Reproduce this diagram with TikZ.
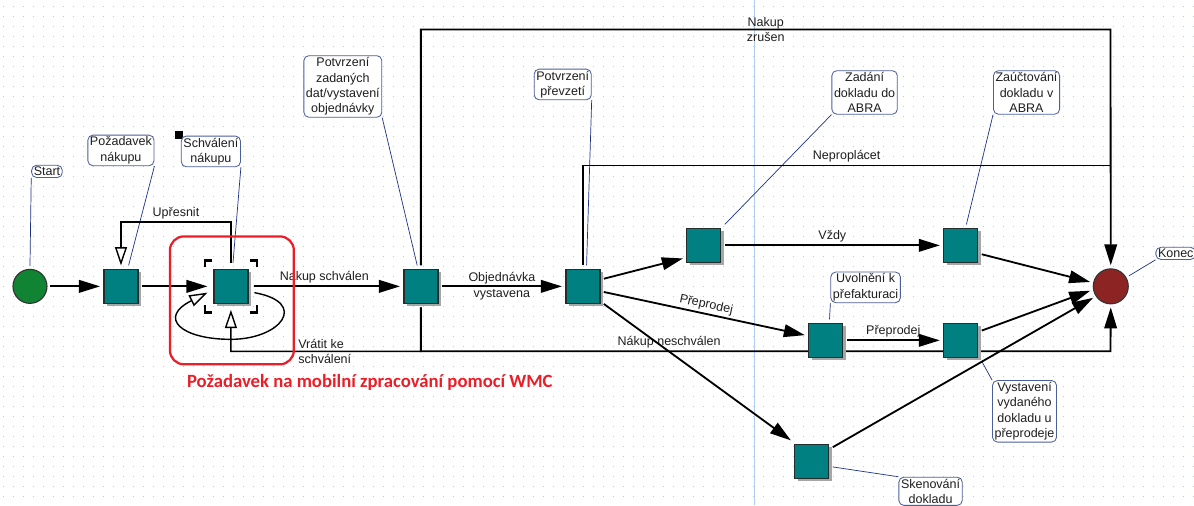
\documentclass[tikz,border=0pt]{standalone}
\usepackage{fontspec}
\setmainfont{Liberation Sans}
\newfontfamily\wmcfont{Carlito}
\usepackage{tikz}
\usetikzlibrary{arrows.meta, calc, shadows}
\pgfdeclarelayer{bg}
\pgfsetlayers{bg,main}
\definecolor{taskfill}{RGB}{0,128,128}
\definecolor{taskedge}{RGB}{35,45,45}
\definecolor{startfill}{RGB}{16,132,50}
\definecolor{endfill}{RGB}{140,36,36}
\definecolor{noteedge}{RGB}{75,95,155}
\definecolor{noteline}{RGB}{30,50,135}
\definecolor{wmcred}{RGB}{235,30,40}
\definecolor{gridcol}{RGB}{190,200,222}
\definecolor{guidecol}{RGB}{175,205,240}
\definecolor{labeltext}{RGB}{30,30,30}
\tikzstyle{task} = [rectangle, minimum size=0.85cm, inner sep=0pt, draw=taskedge, line width=0.9pt, fill=taskfill, outer sep=2.8pt, drop shadow={shadow xshift=2pt, shadow yshift=-2pt, fill=black!35, opacity=1}]
\tikzstyle{startcirc} = [circle, minimum size=0.85cm, inner sep=0pt, draw=black!80, line width=0.8pt, fill=startfill, outer sep=2.5pt]
\tikzstyle{endcirc} = [circle, minimum size=0.875cm, inner sep=0pt, draw=black!80, line width=0.8pt, fill=endfill, outer sep=2.5pt]
\tikzstyle{note} = [rectangle, rounded corners=3.5pt, draw=noteedge, line width=0.6pt, fill=white, align=center, inner xsep=1.5pt, inner ysep=1.2pt, text=labeltext]
\tikzstyle{noteln} = [draw=noteline, line width=0.5pt]
\tikzstyle{lbl} = [text=labeltext, inner sep=1.5pt, align=center]
\tikzstyle{flow} = [line width=1.3pt]
\tikzstyle{arrow} = [line width=1.3pt, -{Triangle[length=15pt, width=9pt]}]
\tikzstyle{openarrow} = [line width=1pt, -{Triangle[length=13pt, width=8.5pt, fill=white]}]
\tikzstyle{bracketln} = [line width=1.7pt]

\begin{document}
\begin{tikzpicture}[x=0.025cm, y=-0.025cm, node distance=2cm, font=\fontsize{8.9}{11}\selectfont]
\begin{pgfonlayer}{bg}
\fill[white] (0,0) rectangle (1194,505);
\foreach \gy in {6,16,...,500}
  \draw[gridcol, line width=0.8pt, dash pattern=on 0.8pt off 6.313pt] (3,\gy) -- (1194,\gy);
\draw[guidecol, line width=0.7pt] (755,0) -- (755,505);
\end{pgfonlayer}
\useasboundingbox (0,0) rectangle (1194,505);

% process
\node (start) [startcirc] at (30,286) {};
\node (pozadavek) [task, right of=start, xshift=0.275cm] {};
\node (schvaleni) [task, outer sep=4.6pt, right of=pozadavek, xshift=0.75cm] {};
\node (objednavka) [task, right of=schvaleni, xshift=2.75cm] {};
\node (prevzeti) [task, right of=objednavka, xshift=2.05cm] {};
\node (zadani) [task, right of=prevzeti, xshift=1.025cm, yshift=1.025cm] {};
\node (zauctovani) [task, right of=zadani, xshift=4.425cm] {};
\node (uvolneni) [task, right of=zadani, xshift=1.05cm, yshift=-2.375cm] {};
\node (vystaveni) [task, right of=uvolneni, xshift=1.375cm] {};
\node (skenovani) [task, below of=uvolneni, xshift=-0.35cm, yshift=-1.025cm] {};
\node (konec) [endcirc, right of=zauctovani, xshift=1.75cm, yshift=-1.025cm] {};

\foreach \sx/\sy in {-1/-1, 1/-1, -1/1, 1/1}
  \draw[bracketln] ($(schvaleni)+(\sx*26,\sy*19)$) -- ($(schvaleni)+(\sx*26,\sy*26)$) -- ($(schvaleni)+(\sx*19,\sy*26)$);
\fill (175,131) rectangle (183,139);

% notes
\node (nStart) [note] at (47,171) {Start};
\node (nPozadavek) [note] at (121,150) {Požadavek\\nákupu};
\node (nSchvaleni) [note] at (211,151) {Schválení\\nákupu};
\node (nObjednavka) [note] at (343,86) {Potvrzení\\zadaných\\dat/vystavení\\objednávky};
\node (nPrevzeti) [note] at (563,84) {Potvrzení\\převzetí};
\node (nZadani) [note] at (865,92) {Zadání\\dokladu do\\ABRA};
\node (nZauctovani) [note] at (1027,92) {Zaúčtování\\dokladu v\\ABRA};
\node (nKonec) [note, anchor=west] at (1156,253) {Konec};
\node (nUvolneni) [note] at (866,287) {Uvolnění k\\přefakturaci};
\node (nVystaveni) [note] at (1025,411) {Vystavení\\vydaného\\dokladu u\\přeprodeje};
\node (nSkenovani) [note] at (931,491) {Skenování\\dokladu};

\draw[noteln] (nStart.south west) -- (start.north);
\draw[noteln] (nPozadavek.south east) -- (pozadavek.70);
\draw[noteln] (nSchvaleni.south east) -- (schvaleni.85);
\draw[noteln] (nObjednavka.south east) -- (objednavka.100);
\draw[noteln] (nPrevzeti.south east) -- (prevzeti.80);
\draw[noteln] (nZadani.south west) -- (zadani.north east);
\draw[noteln] (nZauctovani.south west) -- (zauctovani.75);
\draw[noteln] (nKonec.south west) -- (konec.30);
\draw[noteln] (nUvolneni.south west) -- (uvolneni.80);
\draw[noteln] (nVystaveni.north west) -- (vystaveni.south east);
\draw[noteln] (nSkenovani.north west) -- (skenovani.-15);

% flows
\coordinate (zrusenR) at (1111,29);
\coordinate (neproplR) at (1111,165);
\coordinate (neschvR) at (1111,351);
\coordinate (vratitL) at (231,351);
\coordinate (loopB) at (231,339);
\draw[arrow] (start) -- (pozadavek);
\draw[arrow] (pozadavek) -- (schvaleni);
\draw[arrow] (schvaleni) -- node[lbl, above, pos=0.48] {Nakup schválen} (objednavka);
\draw[arrow] (objednavka) -- node[lbl] {Objednávka\\vystavena} (prevzeti);
\draw[arrow] (prevzeti.20) -- (zadani.212);
\draw[arrow] (prevzeti.-15) -- node[lbl, above, sloped, pos=0.5] {Přeprodej} (uvolneni.166);
\draw[arrow] (prevzeti.-40) -- (skenovani.north west);
\draw[arrow] (zadani) -- node[lbl, above] {Vždy} (zauctovani);
\draw[arrow] (uvolneni) -- node[lbl, above] {Přeprodej} (vystaveni);
\draw[arrow] (zauctovani.-23) -- (konec.168);
\draw[arrow] (vystaveni.25) -- (konec.192);
\draw[arrow] (skenovani.34) -- (konec.213);
\draw[arrow] (objednavka.north) |- node[lbl, pos=0.75] {Nakup\\zrušen} (zrusenR) -- (konec.north);
\draw[flow] (prevzeti.north) |- node[lbl, above, pos=0.75] {Neproplácet} (neproplR);
\begin{pgfonlayer}{bg}
\draw[arrow] (objednavka.south) |- node[lbl, above, pos=0.68] {Nákup neschválen} (neschvR) -- (konec.south);
\end{pgfonlayer}
\draw[openarrow] (objednavka.south) |- node[lbl, align=left, anchor=west, pos=0.83] {Vrátit ke\\schválení} (vratitL) -- (schvaleni.south);
\draw[openarrow] (schvaleni.north) -- ++(0,-41) -| node[lbl, above, pos=0.25] {Upřesnit} (pozadavek.north);
\draw[openarrow] (schvaleni.-15) .. controls +(55,10) and +(50,0) .. (loopB) .. controls +(-50,0) and +(-50,25) .. (schvaleni.195);

% WMC
\draw[wmcred, line width=1.6pt, rounded corners=10pt] (170,236) rectangle (294,364);
\node (wmc) [text=wmcred, font=\wmcfont\bfseries\fontsize{13.3}{15}\selectfont] at (370,382) {Požadavek na mobilní zpracování pomocí WMC};
\end{tikzpicture}
\end{document}
